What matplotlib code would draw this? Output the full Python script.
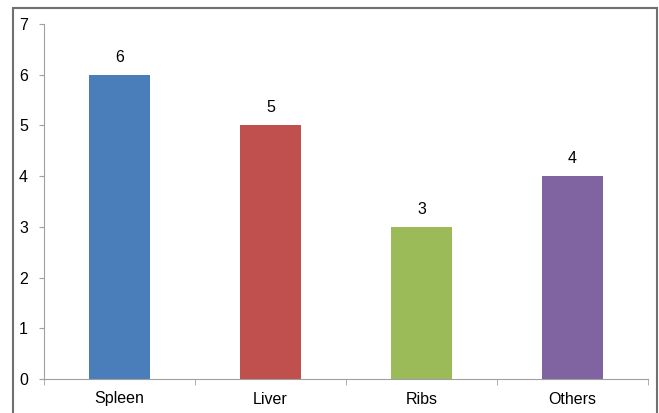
import matplotlib
matplotlib.use("Agg")
from matplotlib import pyplot as plt
from matplotlib.patches import Rectangle

plt.rcParams['font.family'] = ['Liberation Sans', 'DejaVu Sans']

categories = ["Spleen", "Liver", "Ribs", "Others"]
counts = [6, 5, 3, 4]
bar_colors = ["#4a7ebb", "#c0504d", "#9bbb59", "#8064a2"]
y_ticks = [0, 1, 2, 3, 4, 5, 6, 7]

W, H = 659, 413
fig = plt.figure(figsize=(W / 100, H / 100), dpi=100)

# outer frame around the chart (open at the bottom)
frame = Rectangle((13 / W, -0.01), (657 - 13) / W, (H - 8) / H + 0.01,
                  transform=fig.transFigure, fill=False,
                  edgecolor="#707070", linewidth=1.5)
fig.patches.append(frame)

ax = fig.add_axes([44 / W, (H - 379) / H, (648 - 44) / W, (379 - 24) / H])
x = list(range(len(categories)))
bars = ax.bar(x, counts, width=0.4, color=bar_colors, linewidth=0)
for xi, v in zip(x, counts):
    ax.text(xi, v + 0.2, str(v), ha="center", va="bottom", fontsize=11.5)

ax.set_xlim(-0.5, len(categories) - 0.5)
ax.set_ylim(0, 7)
ax.set_yticks(y_ticks)
ax.set_xticks(x)
ax.set_xticklabels(categories, fontsize=11.5)
ax.tick_params(axis="y", labelsize=11.5, length=3.5, color="#a0a0a0", pad=8)
# category separator ticks
ax.set_xticks([i - 0.5 for i in range(len(categories) + 1)], minor=True)
ax.tick_params(axis="x", which="major", length=0, pad=9)
ax.tick_params(axis="x", which="minor", length=4, color="#a0a0a0")

for side in ["top", "right"]:
    ax.spines[side].set_visible(False)
for side in ["left", "bottom"]:
    ax.spines[side].set_color("#a0a0a0")

plt.savefig("out.png", dpi=100)
